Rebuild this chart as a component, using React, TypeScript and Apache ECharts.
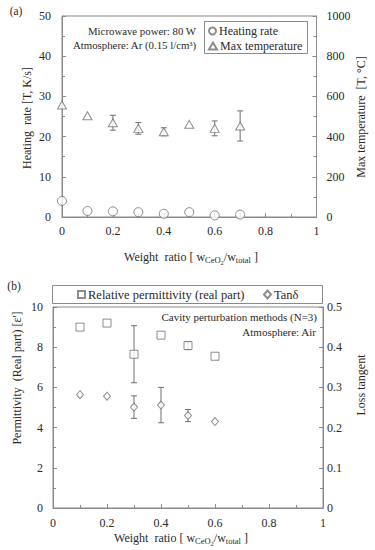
import React, { useEffect, useRef } from "react";
import * as echarts from "echarts";

// ---- data (a) ----
const ratioA = [0, 0.1, 0.2, 0.3, 0.4, 0.5, 0.6, 0.7];
const heatingRate = [4.0, 1.5, 1.4, 1.2, 0.8, 1.2, 0.4, 0.6];
const maxTemp = [557, 504, 469, 441, 424, 461, 441, 453];
const maxTempErr = [0, 0, 37, 29, 20, 0, 37, 75];

// ---- data (b) ----
const ratioB = [0.1, 0.2, 0.3, 0.4, 0.5, 0.6];
const permittivity = [9.0, 9.2, 7.65, 8.6, 8.08, 7.55];
const permErr = [0, 0, 1.42, 0, 0.2, 0];
const tanDelta = [0.282, 0.278, 0.251, 0.256, 0.23, 0.215];
const tanErr = [0, 0, 0.028, 0.044, 0.015, 0];

const xTicksA = { min: 0, max: 1, interval: 0.2 };
const yLeftA = { min: 0, max: 50, interval: 10 };
const yRightA = { min: 0, max: 1000, interval: 200 };
const yLeftB = { min: 0, max: 10, interval: 2 };
const yRightB = { min: 0, max: 0.5, interval: 0.1 };

const FONT = "Liberation Serif";
const AXIS = "#8a8a8a";
const MARK = "#707070";
const TEXT = "#2a2a2a";

function errData(xs: number[], ys: number[], es: number[]) {
  const out: number[][] = [];
  xs.forEach((x, i) => {
    if (es[i] > 0) out.push([x, ys[i] - es[i], ys[i] + es[i]]);
  });
  return out;
}

function errSeries(data: number[][], xi: number, yi: number) {
  return {
    type: "custom",
    xAxisIndex: xi,
    yAxisIndex: yi,
    z: 1,
    silent: true,
    data,
    renderItem: (_p: any, api: any) => {
      const x = api.value(0);
      const lo = api.coord([x, api.value(1)]);
      const hi = api.coord([x, api.value(2)]);
      const hw = 3;
      const st = { stroke: MARK, lineWidth: 1 };
      return {
        type: "group",
        children: [
          { type: "line", shape: { x1: hi[0], y1: hi[1], x2: lo[0], y2: lo[1] }, style: st },
          { type: "line", shape: { x1: hi[0] - hw, y1: hi[1], x2: hi[0] + hw, y2: hi[1] }, style: st },
          { type: "line", shape: { x1: lo[0] - hw, y1: lo[1], x2: lo[0] + hw, y2: lo[1] }, style: st },
        ],
      };
    },
  };
}

const fmt = (v: number) => String(Math.round(v * 1000) / 1000);

function axisCommon(margin: number) {
  return {
    axisLine: { show: true, onZero: false, lineStyle: { color: AXIS, width: 1 } },
    axisTick: { show: true, inside: true, length: 4, lineStyle: { color: AXIS } },
    minorTick: { show: true, splitNumber: 2, length: 3, lineStyle: { color: AXIS } },
    splitLine: { show: false },
    axisLabel: { color: TEXT, fontFamily: FONT, fontSize: 12, margin, formatter: fmt },
  };
}

const subRich = {
  sub: { fontSize: 8.5, fontFamily: FONT, fill: TEXT, padding: [6, 0, 0, 0] },
  sub2: { fontSize: 6.5, fontFamily: FONT, fill: TEXT, padding: [10, 0, 0, 0] },
};

function txt(x: number, y: number, text: string, extra: any = {}, rot = 0) {
  return {
    type: "text",
    x,
    y,
    rotation: rot,
    style: {
      text,
      fill: TEXT,
      fontFamily: FONT,
      fontSize: 12,
      align: "center",
      verticalAlign: "middle",
      ...extra,
    },
  };
}

export default function App() {
  const ref = useRef<HTMLDivElement>(null);
  useEffect(() => {
    if (!ref.current) return;
    const chart = echarts.init(ref.current, null, { renderer: "svg" });
    const legendText = { color: TEXT, fontFamily: FONT, fontSize: 12, padding: [0, 0, 0, -2] };
    const option: any = {
      animation: false,
      backgroundColor: "#fff",
      textStyle: { fontFamily: FONT },
      grid: [
        { left: 62, top: 16, width: 254.5, height: 201, show: true, borderColor: AXIS, borderWidth: 1, backgroundColor: "transparent" },
        { left: 53, top: 307, width: 270, height: 201, show: true, borderColor: AXIS, borderWidth: 1, backgroundColor: "transparent" },
      ],
      xAxis: [
        { type: "value", gridIndex: 0, ...xTicksA, ...axisCommon(8) },
        { type: "value", gridIndex: 1, ...xTicksA, ...axisCommon(9) },
      ],
      yAxis: [
        { type: "value", gridIndex: 0, position: "left", ...yLeftA, ...axisCommon(11) },
        { type: "value", gridIndex: 0, position: "right", ...yRightA, ...axisCommon(10) },
        { type: "value", gridIndex: 1, position: "left", ...yLeftB, ...axisCommon(10) },
        { type: "value", gridIndex: 1, position: "right", ...yRightB, ...axisCommon(4) },
      ],
      legend: [
        { data: ["Heating rate"], left: 208, top: 25, padding: 0, itemWidth: 7, itemHeight: 7, itemGap: 0, textStyle: legendText, selectedMode: false },
        { data: ["Max temperature"], left: 208, top: 40, padding: 0, itemWidth: 8, itemHeight: 7, itemGap: 0, textStyle: legendText, selectedMode: false },
        { data: ["Relative permittivity (real part)"], left: 77, top: 288, padding: 0, itemWidth: 7, itemHeight: 7, textStyle: { ...legendText, fontSize: 12.5 }, selectedMode: false },
        { data: ["Tanδ"], left: 263, top: 288, padding: 0, itemWidth: 7, itemHeight: 8, textStyle: { ...legendText, fontSize: 12.5 }, selectedMode: false },
      ],
      series: [
        errSeries(errData(ratioA, maxTemp, maxTempErr), 0, 1),
        {
          name: "Heating rate",
          type: "scatter",
          xAxisIndex: 0,
          yAxisIndex: 0,
          z: 3,
          symbol: "circle",
          symbolSize: 9,
          itemStyle: { color: "#fff", borderColor: MARK, borderWidth: 1 },
          data: ratioA.map((x, i) => [x, heatingRate[i]]),
        },
        {
          name: "Max temperature",
          type: "scatter",
          xAxisIndex: 0,
          yAxisIndex: 1,
          z: 3,
          symbol: "triangle",
          symbolSize: [9, 8],
          itemStyle: { color: "#fff", borderColor: MARK, borderWidth: 1 },
          data: ratioA.map((x, i) => [x, maxTemp[i]]),
        },
        errSeries(errData(ratioB, permittivity, permErr), 1, 2),
        errSeries(errData(ratioB, tanDelta, tanErr), 1, 3),
        {
          name: "Relative permittivity (real part)",
          type: "scatter",
          xAxisIndex: 1,
          yAxisIndex: 2,
          z: 3,
          symbol: "rect",
          symbolSize: 8,
          itemStyle: { color: "#fff", borderColor: MARK, borderWidth: 1 },
          data: ratioB.map((x, i) => [x, permittivity[i]]),
        },
        {
          name: "Tanδ",
          type: "scatter",
          xAxisIndex: 1,
          yAxisIndex: 3,
          z: 3,
          symbol: "diamond",
          symbolSize: [7, 8],
          itemStyle: { color: "#fff", borderColor: MARK, borderWidth: 1 },
          data: ratioB.map((x, i) => [x, tanDelta[i]]),
        },
      ],
      graphic: [
        { type: "rect", shape: { x: 204.5, y: 21.5, width: 103, height: 32 }, style: { fill: "transparent", stroke: AXIS, lineWidth: 1 }, z: 0 },
        { type: "rect", shape: { x: 52.5, y: 285.5, width: 270, height: 18 }, style: { fill: "transparent", stroke: AXIS, lineWidth: 1 }, z: 0 },
        txt(16, 11, "(a)", { fontSize: 11.5 }),
        txt(14, 286, "(b)", { fontSize: 11.5 }),
        txt(88, 31, "Microwave power: 80 W", { align: "left", fontSize: 10.8 }),
        txt(73, 45, "Atmosphere: Ar (0.15 l/cm³)", { align: "left", fontSize: 10.8 }),
        txt(317, 317, "Cavity perturbation methods (N=3)", { align: "right", fontSize: 11 }),
        txt(316, 332, "Atmosphere: Air", { align: "right", fontSize: 11 }),
        txt(27, 118, "Heating  rate [T, K/s]", {}, Math.PI / 2),
        txt(361, 117, "Max temperature  [T, °C]", {}, Math.PI / 2),
        txt(17, 378, "Permittivity  (Real part) [ε']", {}, Math.PI / 2),
        txt(361, 385, "Loss tangent", {}, Math.PI / 2),
        txt(191, 257, "Weight  ratio [ w{sub|CeO}{sub2|2}/w{sub|total} ]", { rich: subRich }),
        txt(181, 538, "Weight  ratio [ w{sub|CeO}{sub2|2}/w{sub|total} ]", { rich: subRich }),
      ],
    };
    chart.setOption(option);
    return () => chart.dispose();
  }, []);
  return (
    <div
      ref={ref}
      style={{ position: "absolute", left: 0, top: 0, width: 375, height: 550, background: "#fff" }}
    />
  );
}
